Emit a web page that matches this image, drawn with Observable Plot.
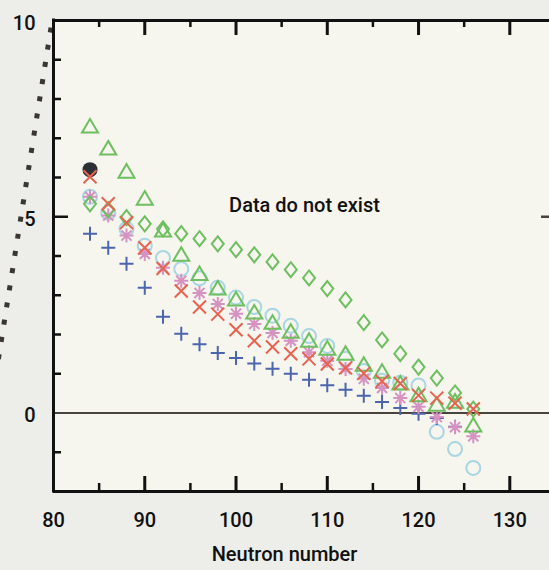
<!DOCTYPE html>
<html>
<head>
<meta charset="utf-8">
<script src="https://cdn.jsdelivr.net/npm/d3@7"></script>
<script src="https://cdn.jsdelivr.net/npm/@observablehq/plot@0.6"></script>
<style>
  html, body { margin: 0; padding: 0; background: #EDEDE9; }
  #chart svg { display: block; }
</style>
</head>
<body>
<div id="chart"></div>
<script>
// Neutron numbers (even N) shared by every series
const neutrons = [84, 86, 88, 90, 92, 94, 96, 98, 100, 102, 104, 106, 108, 110, 112, 114, 116, 118, 120, 122, 124, 126];

// Series values, one per neutron number (null = no point)
const plusValues     = [4.57, 4.21, 3.80, 3.19, 2.45, 2.02, 1.75, 1.53, 1.40, 1.26, 1.13, 1.00, 0.85, 0.71, 0.59, 0.44, 0.28, 0.13, -0.02, -0.13, -0.35, null];
const timesValues    = [6.02, 5.33, 4.85, 4.21, 3.68, 3.11, 2.70, 2.52, 2.12, 1.84, 1.68, 1.51, 1.38, 1.25, 1.15, 1.01, 0.81, 0.75, 0.45, 0.38, 0.25, 0.10];
const circleValues   = [5.51, 5.10, 4.69, 4.26, 3.95, 3.67, 3.43, 3.19, 2.94, 2.70, 2.48, 2.22, 1.96, 1.71, 1.38, 1.07, 0.82, 0.77, 0.70, -0.48, -0.92, -1.40];
const asteriskValues = [5.51, 5.03, 4.52, 4.05, 3.70, 3.37, 3.06, 2.78, 2.53, 2.27, 2.04, 1.84, 1.55, 1.33, 1.12, 0.87, 0.64, 0.38, 0.16, -0.10, -0.36, -0.59];
const triangleValues = [7.32, 6.76, 6.17, 5.48, 4.67, 4.05, 3.56, 3.19, 2.91, 2.58, 2.32, 2.09, 1.86, 1.66, 1.53, 1.25, 1.07, 0.77, 0.47, 0.23, 0.31, -0.30];
const diamondValues  = [5.33, 5.18, 4.98, 4.82, 4.69, 4.57, 4.44, 4.31, 4.16, 4.03, 3.85, 3.65, 3.44, 3.17, 2.88, 2.30, 1.86, 1.51, 1.17, 0.89, 0.51, 0.10];

// Single measured point
const measuredN = [84];
const measuredValues = [6.20];

// Boundary of the region where data do not exist (dotted line)
const boundaryN = [79.73, 73.6];
const boundaryValues = [9.82, 0.85];

// Annotation
const noteN = [107.5];
const noteValues = [5.28];
const noteText = ["Data do not exist"];

// Axis ticks and labels
const xLabelTicks = [80, 90, 100, 110, 120, 130];
const xMajorTicks = [90, 100, 110, 120, 130];
const xMinorTicks = [85, 95, 105, 115, 125];
const yLabelTicks = [0, 5, 10];
const yMinorTicks = [-1, 1, 2, 3, 4, 6, 7, 8, 9];
const yMajorTicks = [5];
const xTitle = "Neutron number";

// Layout
const width = 549, height = 570;
const mTop = 20, mBottom = 79, mLeft = 53, mRight = 0;
const frameW = width - mLeft - mRight;
const frameH = height - mTop - mBottom;

const rows = (values) => neutrons.map((n, i) => ({n, v: values[i]})).filter(d => d.v != null);
const boundary = boundaryN.map((n, i) => ({n, v: boundaryValues[i]}));
const notes = noteN.map((n, i) => ({n, v: noteValues[i], label: noteText[i]}));
const measured = measuredN.map((n, i) => ({n, v: measuredValues[i]}));

// Custom marker shapes; size is π r², so s is the half extent in pixels
const half = (size) => Math.sqrt(size / Math.PI);
const sym = {
  circle: {draw(c, size) { const s = half(size); c.moveTo(s, 0); c.arc(0, 0, s, 0, 2 * Math.PI); }},
  triangle: {draw(c, size) { const s = half(size), h = s * 1.7; c.moveTo(0, -h / 2); c.lineTo(s, h / 2); c.lineTo(-s, h / 2); c.closePath(); }},
  diamond: {draw(c, size) { const s = half(size), w = s * 0.8; c.moveTo(0, -s); c.lineTo(w, 0); c.lineTo(0, s); c.lineTo(-w, 0); c.closePath(); }},
  times: {draw(c, size) { const s = half(size); c.moveTo(-s, -s); c.lineTo(s, s); c.moveTo(s, -s); c.lineTo(-s, s); }},
  plus: {draw(c, size) { const s = half(size); c.moveTo(-s, 0); c.lineTo(s, 0); c.moveTo(0, -s); c.lineTo(0, s); }},
  asterisk: {draw(c, size) { const s = half(size), d = s * 0.72; c.moveTo(0, -s); c.lineTo(0, s); c.moveTo(-s, 0); c.lineTo(s, 0); c.moveTo(-d, -d); c.lineTo(d, d); c.moveTo(d, -d); c.lineTo(-d, d); }}
};

const green = "#6DBF5F", red = "#E8634F", lightBlue = "#A8D6E2", pink = "#D593C2", blue = "#4C66AE", ink = "#111111";

const series = (values, symbol, color, r) =>
  Plot.dot(rows(values), {x: "n", y: "v", symbol, r, stroke: color, fill: "none", strokeWidth: 2});

const chart = Plot.plot({
  width, height,
  marginTop: mTop, marginBottom: mBottom, marginLeft: mLeft, marginRight: mRight,
  x: {domain: [80, 134.35]},
  y: {domain: [-2, 10]},
  style: {background: "#EDEDE9", fontFamily: "Roboto, 'DejaVu Sans', sans-serif", fontSize: "20px", fontWeight: 500, color: ink},
  marks: [
    Plot.frame({fill: "#F6F5EE", stroke: null}),
    // zero line
    Plot.ruleY([0], {stroke: "#48433C", strokeWidth: 2}),
    // dotted boundary: square dots
    Plot.line(boundary, {x: "n", y: "v", stroke: "#3A3632", strokeWidth: 5, strokeDasharray: "5 12.4", strokeLinecap: "butt", clip: false}),
    // data series
    Plot.dot(measured, {x: "n", y: "v", r: 7.5, fill: "#2A3033", stroke: "none"}),
    series(circleValues, sym.circle, lightBlue, 7),
    series(plusValues, sym.plus, blue, 7),
    series(asteriskValues, sym.asterisk, pink, 7),
    series(diamondValues, sym.diamond, green, 7.5),
    series(triangleValues, sym.triangle, green, 8),
    series(timesValues, sym.times, red, 6.5),
    // frame edges
    Plot.ruleX([80], {stroke: ink, strokeWidth: 3, strokeLinecap: "square"}),
    Plot.ruleY([-2, 10], {stroke: ink, strokeWidth: 3}),
    // inward ticks: bottom and top
    Plot.ruleX(xMajorTicks, {stroke: ink, strokeWidth: 3, insetTop: frameH - 15}),
    Plot.ruleX(xMinorTicks, {stroke: ink, strokeWidth: 2.5, insetTop: frameH - 8}),
    Plot.ruleX(xMajorTicks, {stroke: ink, strokeWidth: 3, insetBottom: frameH - 15}),
    Plot.ruleX(xMinorTicks, {stroke: ink, strokeWidth: 2.5, insetBottom: frameH - 7}),
    // inward ticks: left and right
    Plot.ruleY(yMinorTicks, {stroke: ink, strokeWidth: 2.5, insetRight: frameW - 8}),
    Plot.ruleY(yMajorTicks, {stroke: ink, strokeWidth: 2.5, insetRight: frameW - 15}),
    Plot.ruleY(yMajorTicks, {stroke: "#48433C", strokeWidth: 2.5, insetLeft: frameW - 8}),
    // tick labels
    Plot.axisX({ticks: xLabelTicks, tickSize: 0, tickPadding: 21, label: null, tickFormat: d => String(d), fill: ink, fontWeight: 500}),
    Plot.axisY({ticks: yLabelTicks, tickSize: 0, tickPadding: 18, label: null, dy: 3, tickFormat: d => String(d), fill: ink, fontWeight: 500}),
    // annotation and axis title
    Plot.text(notes, {x: "n", y: "v", text: "label", fontSize: 20, fontWeight: 500, fill: ink}),
    Plot.text([xTitle], {text: d => d, frameAnchor: "bottom", dy: 69, dx: -17, fontSize: 20, fontWeight: 500, fill: ink})
  ]
});

document.getElementById("chart").appendChild(chart);
</script>
</body>
</html>
